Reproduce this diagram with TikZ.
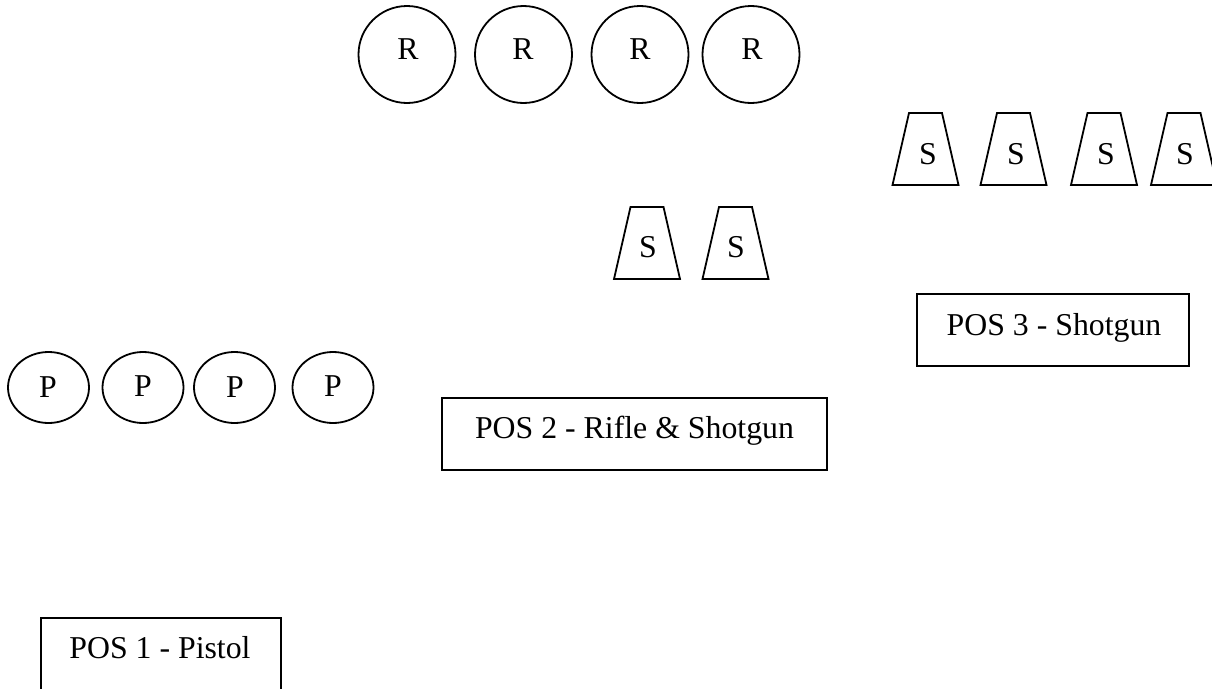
\documentclass[tikz,border=0pt]{standalone}
\usepackage{fontspec}
\setmainfont{Liberation Serif}
\usetikzlibrary{shapes.geometric}
\begin{document}
\begin{tikzpicture}[x=1pt,y=-1pt,line width=1.8pt,
  lbl/.style={anchor=base,inner sep=0pt,font=\fontsize{31.8}{38}\selectfont},
  rcirc/.style={draw,circle,minimum size=97pt,inner sep=0pt},
  pell/.style={draw,ellipse,minimum width=81pt,minimum height=71pt,inner sep=0pt},
  posbox/.style={draw,rectangle,inner sep=0pt,minimum height=72pt},
  cup/.pic={\draw (-33,36) -- (-16.5,-36) -- (16.5,-36) -- (33,36) -- cycle;}]
\useasboundingbox (0,0) rectangle (1212,688);
\clip (0,0) rectangle (1212,688);
% rifle targets
\node[rcirc] (r1) at (407,54.5) {};
\node[rcirc] (r2) at (523.5,54.5) {};
\node[rcirc] (r3) at (640,54.5) {};
\node[rcirc] (r4) at (751,54.5) {};
\node[lbl] (r1t) at (408,59) {R};
\node[lbl] (r2t) at (523,59) {R};
\node[lbl] (r3t) at (640,59) {R};
\node[lbl] (r4t) at (752,59) {R};
% shotgun targets top row
\pic (sa) at (925.5,149) {cup};
\pic (sb) at (1013.5,149) {cup};
\pic (sc) at (1104,149) {cup};
\pic (sd) at (1184,149) {cup};
\node[lbl] (sat) at (928,164) {S};
\node[lbl] (sbt) at (1016,164) {S};
\node[lbl] (sct) at (1106,164) {S};
\node[lbl] (sdt) at (1185,164) {S};
% shotgun targets middle
\pic (se) at (647,243) {cup};
\pic (sf) at (735.5,243) {cup};
\node[lbl] (set) at (648,257) {S};
\node[lbl] (sft) at (736,257) {S};
% pistol targets
\node[pell] (p1) at (48.5,387.5) {};
\node[pell] (p2) at (143,387.5) {};
\node[pell] (p3) at (234.5,387.5) {};
\node[pell] (p4) at (333,387.5) {};
\node[lbl] (p1t) at (48,397) {P};
\node[lbl] (p2t) at (143,396) {P};
\node[lbl] (p3t) at (235,397) {P};
\node[lbl] (p4t) at (333,396) {P};
% position boxes
\node[posbox,minimum width=272pt] (pos3) at (1053,330) {};
\node[lbl] (pos3t) at (1054,335) {POS 3 - Shotgun};
\node[posbox,minimum width=385pt] (pos2) at (634.5,434) {};
\node[lbl] (pos2t) at (634.5,438.5) {POS 2 - Rifle \& Shotgun};
\node[posbox,minimum width=240pt] (pos1) at (161,654) {};
\node[lbl] (pos1t) at (160,658.5) {POS 1 - Pistol};
\end{tikzpicture}
\end{document}
